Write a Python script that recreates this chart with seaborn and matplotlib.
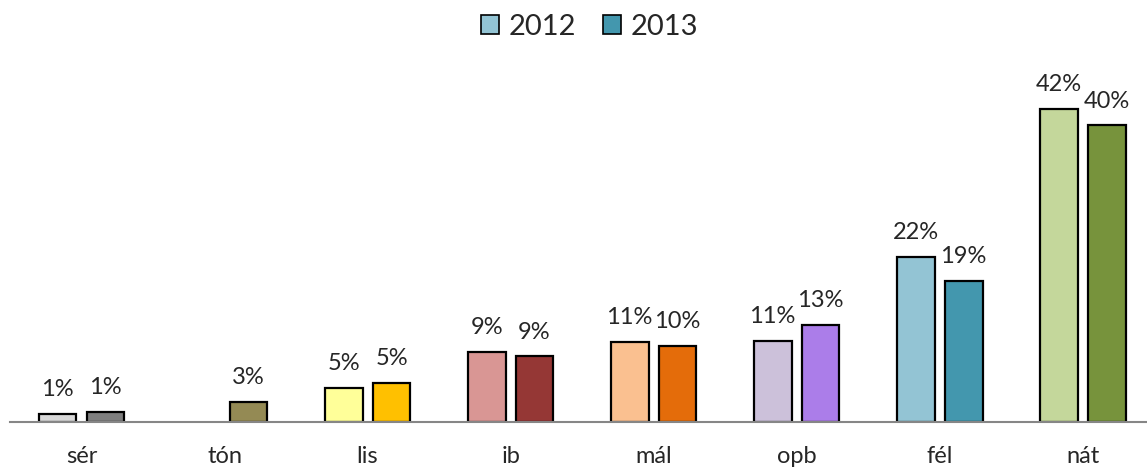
import numpy as np
import pandas as pd
import seaborn as sns
import matplotlib.pyplot as plt
from matplotlib.patches import Patch

# =========================================
# DATA
# =========================================

categories = ["sér", "tón", "lis", "ib", "mál", "opb", "fél", "nát"]
years = ["2012", "2013"]

share_2012 = [0.011, np.nan, 0.046, 0.094, 0.108, 0.109, 0.222, 0.420]
share_2013 = [0.013, 0.027, 0.052, 0.088, 0.102, 0.130, 0.189, 0.398]

colors_2012 = ["#d9d9d9", "#c4bd97", "#ffff99", "#d99694",
               "#fac090", "#ccc1da", "#93c4d4", "#c4d79b"]
colors_2013 = ["#7f7f7f", "#948a54", "#ffc000", "#953735",
               "#e46c0a", "#ab7de9", "#4397ae", "#77933c"]

df = pd.DataFrame({
    "cat": categories * 2,
    "year": [years[0]] * len(categories) + [years[1]] * len(categories),
    "share": share_2012 + share_2013,
}).dropna()

# =========================================
# PLOT
# =========================================

sns.set_style("white")
plt.rcParams["font.family"] = ["Lato", "DejaVu Sans"]

fig = plt.figure(figsize=(11.47, 4.68), dpi=100)
ax = fig.add_axes([10 / 1147, 46 / 468, 1 - 10 / 1147, 0.828])

sns.barplot(
    data=df, x="cat", y="share", hue="year",
    order=categories, hue_order=years,
    palette=[colors_2012[6], colors_2013[6]],
    width=0.67, gap=0.21,
    edgecolor="black", linewidth=1.6,
    legend=False, ax=ax,
)

# recolour each bar by its category
for i, cont in enumerate(ax.containers):
    cols = colors_2012 if i == 0 else colors_2013
    for bar in cont:
        idx = int(round(bar.get_x() + bar.get_width() / 2))
        bar.set_facecolor(cols[idx])
    labels = [f"{v:.0%}" for v in cont.datavalues]
    ax.bar_label(cont, labels=labels, padding=10, fontsize=17)

ax.set_xlim(-0.5, 7.45)
ax.set_ylim(0, 0.52)
ax.set_xlabel("")
ax.set_ylabel("")
ax.set_yticks([])
ax.tick_params(axis="x", length=0, labelsize=17, pad=17)

for side in ["top", "left", "right"]:
    ax.spines[side].set_visible(False)
ax.spines["bottom"].set_color("#868686")
ax.spines["bottom"].set_linewidth(1.5)

handles = [
    Patch(facecolor=colors_2012[6], edgecolor="black", linewidth=1.2, label="2012"),
    Patch(facecolor=colors_2013[6], edgecolor="black", linewidth=1.2, label="2013"),
]
fig.legend(
    handles=handles, loc="center", bbox_to_anchor=(0.514, 1 - 27 / 468),
    ncol=2, frameon=False, fontsize=21,
    handlelength=0.62, handleheight=0.62, handletextpad=0.3, columnspacing=0.95,
)

fig.savefig("out.png", dpi=100)
